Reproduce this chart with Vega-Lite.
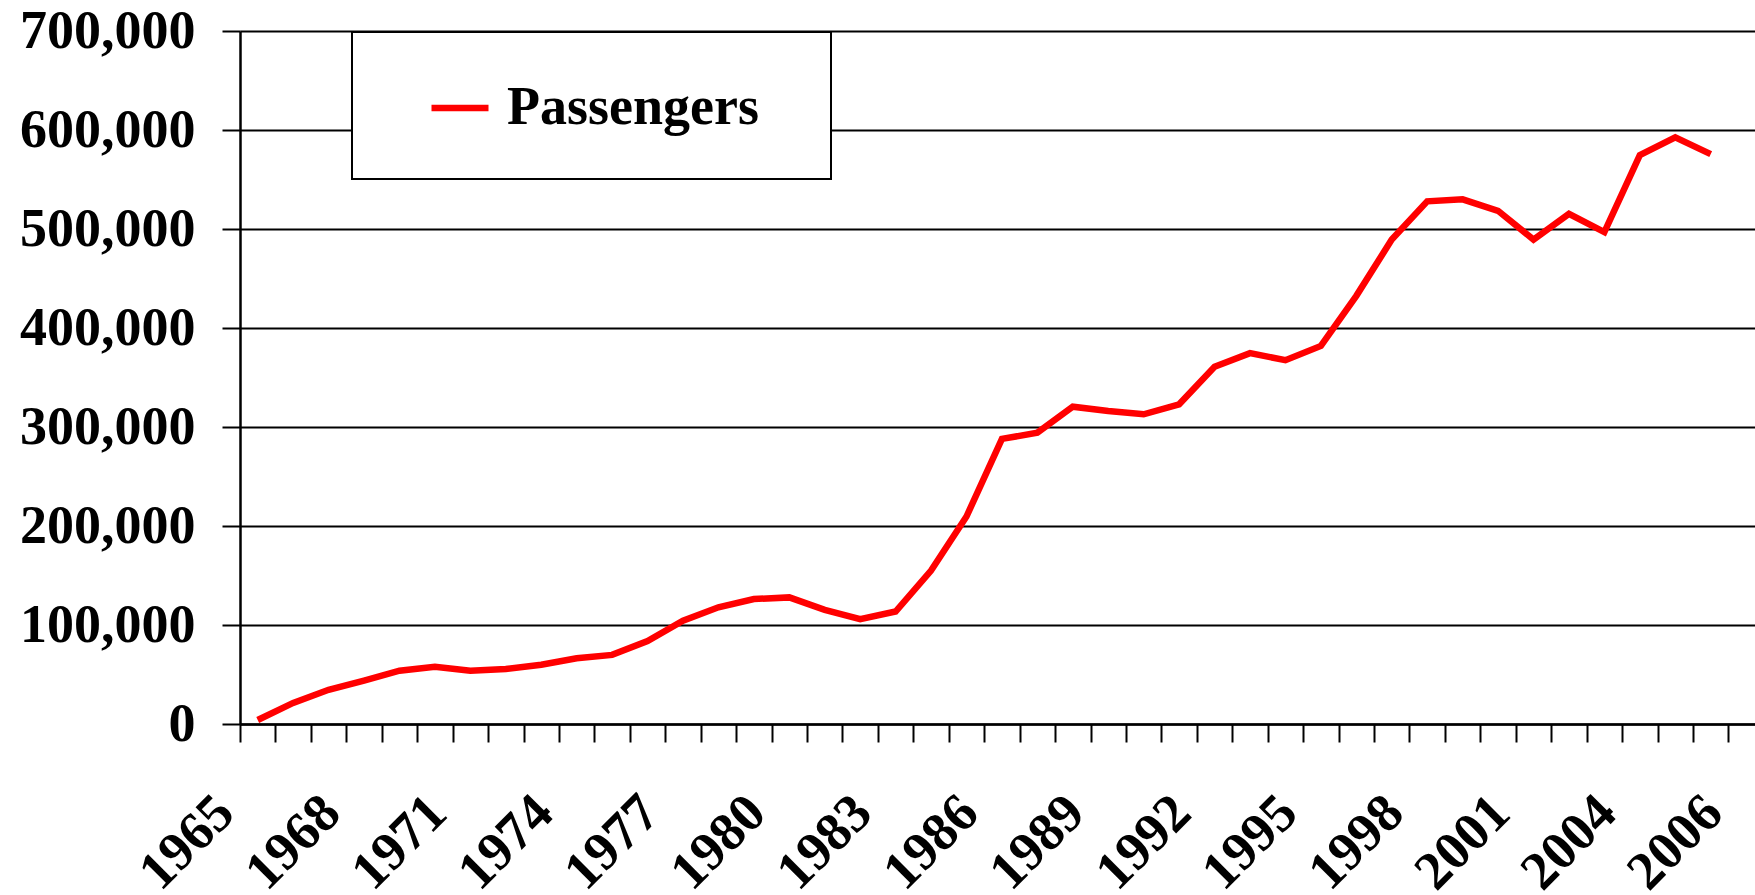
{
  "$schema": "https://vega.github.io/schema/vega-lite/v6.json",
  "autosize": "none",
  "padding": {"left": 240, "top": 31, "right": 0, "bottom": 171},
  "width": 1515,
  "height": 693,
  "background": "white",
  "config": {"view": {"stroke": null}, "font": "Liberation Serif"},
  "data": {"values": [
    {"year": 1965, "passengers": 4000, "series": "Passengers"},
    {"year": 1966, "passengers": 21300, "series": "Passengers"},
    {"year": 1967, "passengers": 34600, "series": "Passengers"},
    {"year": 1968, "passengers": 43900, "series": "Passengers"},
    {"year": 1969, "passengers": 53800, "series": "Passengers"},
    {"year": 1970, "passengers": 57800, "series": "Passengers"},
    {"year": 1971, "passengers": 53800, "series": "Passengers"},
    {"year": 1972, "passengers": 55500, "series": "Passengers"},
    {"year": 1973, "passengers": 59800, "series": "Passengers"},
    {"year": 1974, "passengers": 66400, "series": "Passengers"},
    {"year": 1975, "passengers": 69800, "series": "Passengers"},
    {"year": 1976, "passengers": 83700, "series": "Passengers"},
    {"year": 1977, "passengers": 104300, "series": "Passengers"},
    {"year": 1978, "passengers": 117900, "series": "Passengers"},
    {"year": 1979, "passengers": 126200, "series": "Passengers"},
    {"year": 1980, "passengers": 127900, "series": "Passengers"},
    {"year": 1981, "passengers": 115300, "series": "Passengers"},
    {"year": 1982, "passengers": 106000, "series": "Passengers"},
    {"year": 1983, "passengers": 113600, "series": "Passengers"},
    {"year": 1984, "passengers": 154900, "series": "Passengers"},
    {"year": 1985, "passengers": 209600, "series": "Passengers"},
    {"year": 1986, "passengers": 288000, "series": "Passengers"},
    {"year": 1987, "passengers": 294200, "series": "Passengers"},
    {"year": 1988, "passengers": 320500, "series": "Passengers"},
    {"year": 1989, "passengers": 316100, "series": "Passengers"},
    {"year": 1990, "passengers": 312800, "series": "Passengers"},
    {"year": 1991, "passengers": 322900, "series": "Passengers"},
    {"year": 1992, "passengers": 360800, "series": "Passengers"},
    {"year": 1993, "passengers": 374600, "series": "Passengers"},
    {"year": 1994, "passengers": 367500, "series": "Passengers"},
    {"year": 1995, "passengers": 381900, "series": "Passengers"},
    {"year": 1996, "passengers": 432500, "series": "Passengers"},
    {"year": 1997, "passengers": 489300, "series": "Passengers"},
    {"year": 1998, "passengers": 527900, "series": "Passengers"},
    {"year": 1999, "passengers": 530000, "series": "Passengers"},
    {"year": 2000, "passengers": 518400, "series": "Passengers"},
    {"year": 2001, "passengers": 489300, "series": "Passengers"},
    {"year": 2002, "passengers": 515400, "series": "Passengers"},
    {"year": 2003, "passengers": 496800, "series": "Passengers"},
    {"year": 2004, "passengers": 574600, "series": "Passengers"},
    {"year": 2005, "passengers": 592600, "series": "Passengers"},
    {"year": 2006, "passengers": 575600, "series": "Passengers"}
  ]},
  "mark": {"type": "line", "strokeWidth": 6.5, "strokeJoin": "miter"},
  "encoding": {
    "x": {
      "field": "year", "type": "quantitative",
      "scale": {"domain": [1964.5, 2007.25], "nice": false, "zero": false},
      "axis": {
        "title": null,
        "orient": "bottom",
        "values": [1964.5, 1965.5, 1966.5, 1967.5, 1968.5, 1969.5, 1970.5, 1971.5, 1972.5, 1973.5, 1974.5, 1975.5, 1976.5, 1977.5, 1978.5, 1979.5, 1980.5, 1981.5, 1982.5, 1983.5, 1984.5, 1985.5, 1986.5, 1987.5, 1988.5, 1989.5, 1990.5, 1991.5, 1992.5, 1993.5, 1994.5, 1995.5, 1996.5, 1997.5, 1998.5, 1999.5, 2000.5, 2001.5, 2002.5, 2003.5, 2004.5, 2005.5, 2006.5],
        "labelExpr": "datum.value == 2006.5 ? '2006' : ((datum.value - 1964.5) % 3 == 0 ? format(datum.value + 0.5, 'd') : '')",
        "grid": false,
        "domainColor": "black", "domainWidth": 2.5,
        "tickColor": "black", "tickWidth": 2, "tickSize": 18,
        "labelAngle": -45, "labelAlign": "right", "labelBaseline": "middle",
        "labelPadding": 62, "labelOffset": -15,
        "labelFont": "Liberation Serif", "labelFontSize": 54, "labelFontWeight": "bold", "labelColor": "black",
        "labelFlush": false, "labelOverlap": false, "labelBound": false
      }
    },
    "y": {
      "field": "passengers", "type": "quantitative",
      "scale": {"domain": [0, 700000], "nice": false},
      "axis": {
        "title": null,
        "values": [0, 100000, 200000, 300000, 400000, 500000, 600000, 700000],
        "format": ",d",
        "grid": true, "gridColor": "black", "gridWidth": 2, "gridOpacity": 1,
        "domainColor": "black", "domainWidth": 2.5,
        "tickColor": "black", "tickWidth": 2, "tickSize": 18,
        "labelPadding": 27,
        "labelFont": "Liberation Serif", "labelFontSize": 54, "labelFontWeight": "bold", "labelColor": "black",
        "labelOverlap": false, "labelFlush": false, "labelBound": false
      }
    },
    "color": {
      "field": "series", "type": "nominal",
      "scale": {"range": ["#ff0000"]},
      "legend": {
        "title": ".",
        "titleOrient": "right",
        "titleFontSize": 10,
        "titleOpacity": 0,
        "titlePadding": 25,
        "orient": "none", "legendX": 112, "legendY": 1,
        "fillColor": "white", "strokeColor": "black",
        "padding": 44,
        "symbolType": "stroke", "symbolSize": 3249, "symbolStrokeWidth": 6.5,
        "symbolOffset": 32,
        "labelOffset": 15,
        "labelFont": "Liberation Serif", "labelFontSize": 54, "labelFontWeight": "bold", "labelColor": "black",
        "labelLimit": 1000,
        "encode": {"legend": {"update": {"strokeWidth": {"value": 2}}}}
      }
    }
  }
}
